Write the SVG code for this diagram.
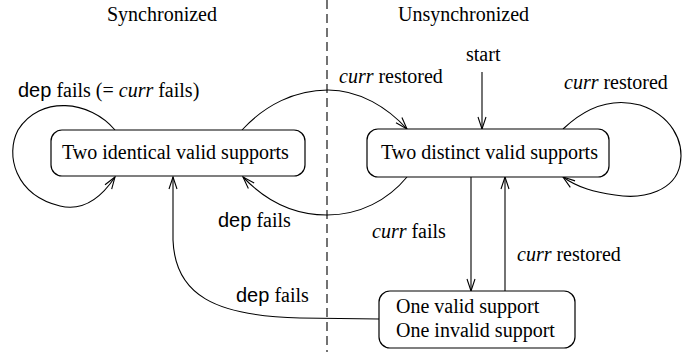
<svg xmlns="http://www.w3.org/2000/svg" width="698" height="352" viewBox="0 0 698 352">
<style>
.t{font-family:"Liberation Serif","Times New Roman",Times,serif;font-size:20px;fill:#000}
.s{font-family:"Liberation Sans",Arial,Helvetica,sans-serif}
.m{font-style:italic}
.box{fill:#fff;stroke:#000;stroke-width:1.2}
.c{fill:none;stroke:#000;stroke-width:1.1}
</style>
<defs>
<marker id="a" viewBox="-13 -6 15 12" refX="0" refY="0" markerWidth="15" markerHeight="12" markerUnits="userSpaceOnUse" orient="auto">
<path d="M-12,-4 L0,0 L-12,4" fill="none" stroke="#000" stroke-width="1.1"/>
</marker>
</defs>
<rect width="698" height="352" fill="#fff"/>
<line x1="327" y1="0" x2="327" y2="352" stroke="#000" stroke-width="1.1" stroke-dasharray="9,5"/>
<text class="t" x="107" y="21">Synchronized</text>
<text class="t" x="398" y="21">Unsynchronized</text>
<g id="connectors">
<path class="c" d="M115,130 C90,100 40,95 18,130 C5,155 15,195 60,206 C85,212 103,195 115,177" marker-end="url(#a)"/>
<path class="c" d="M242,130 C265,105 295,90 328,90 C360,90 388,108 407,129" marker-end="url(#a)"/>
<path class="c" d="M407,177 C388,200 360,215 327,215 C290,215 262,197 243,177" marker-end="url(#a)"/>
<path class="c" d="M379,319 L300,318 C215,316 175,295 173,240 L173,177" marker-end="url(#a)"/>
<path class="c" d="M471,177 L471,291" marker-end="url(#a)"/>
<path class="c" d="M505,291 L505,177" marker-end="url(#a)"/>
<path class="c" d="M482,72 L482,129" marker-end="url(#a)"/>
<path class="c" d="M563,129 C585,108 610,97 640,105 C670,115 685,140 680,165 C675,190 645,200 615,195 C595,192 578,188 563,177" marker-end="url(#a)"/>
</g>
<g id="n1">
<rect class="box" x="51" y="130" width="254" height="46" rx="11"/>
<text class="t" x="62" y="159">Two identical valid supports</text>
</g>
<g id="n2">
<rect class="box" x="367" y="129" width="242" height="48" rx="11"/>
<text class="t" x="381" y="159">Two distinct valid supports</text>
</g>
<g id="n3">
<rect class="box" x="379" y="291" width="196" height="57" rx="11"/>
<text class="t" x="396" y="313">One valid support</text>
<text class="t" x="396" y="337">One invalid support</text>
</g>
<g id="labels">
<text class="t" x="18" y="97"><tspan class="s">dep</tspan> fails (= <tspan class="m">curr</tspan> fails)</text>
<text class="t" x="339" y="83"><tspan class="m">curr</tspan> restored</text>
<text class="t" x="466" y="61">start</text>
<text class="t" x="564" y="89"><tspan class="m">curr</tspan> restored</text>
<text class="t" x="218" y="227"><tspan class="s">dep</tspan> fails</text>
<text class="t" x="372" y="238"><tspan class="m">curr</tspan> fails</text>
<text class="t" x="517" y="261"><tspan class="m">curr</tspan> restored</text>
<text class="t" x="236" y="302"><tspan class="s">dep</tspan> fails</text>
</g>
</svg>
